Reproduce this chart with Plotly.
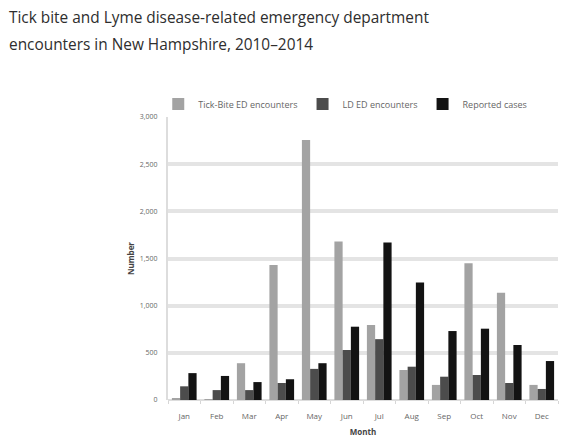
import plotly.graph_objects as go

months = ["Jan", "Feb", "Mar", "Apr", "May", "Jun", "Jul", "Aug", "Sep", "Oct", "Nov", "Dec"]
tick_bite_ed = [15, 10, 390, 1430, 2755, 1680, 795, 318, 160, 1450, 1138, 160]
ld_ed = [145, 105, 105, 180, 330, 530, 645, 353, 247, 265, 180, 117]
reported_cases = [285, 255, 190, 220, 390, 777, 1670, 1245, 731, 756, 583, 413]

y_ticks = [0, 500, 1000, 1500, 2000, 2500, 3000]
y_tick_labels = ["0", "500", "1,000", "1,500", "2,000", "2,500", "3,000"]

title_lines = ["Tick bite and Lyme disease-related emergency department",
               "encounters in New Hampshire, 2010–2014"]

W, H = 561, 440
L, R, T, B = 168, 3, 117, 40
ph = H - T - B
pw = W - L - R

fig = go.Figure()
fig.add_trace(go.Bar(name="Tick-Bite ED encounters", x=months, y=tick_bite_ed,
                     marker=dict(color="#a3a3a3", line=dict(width=0))))
fig.add_trace(go.Bar(name="LD ED encounters", x=months, y=ld_ed,
                     marker=dict(color="#4c4c4c", line=dict(width=0))))
fig.add_trace(go.Bar(name="Reported cases", x=months, y=reported_cases,
                     marker=dict(color="#131313", line=dict(width=0))))

annotations = []
for i, line in enumerate(title_lines):
    annotations.append(dict(
        text=line, xref="paper", yref="paper",
        x=-(L - 7) / pw, y=1 + (T - (18 + 27 * i)) / ph,
        xanchor="left", yanchor="middle", align="left", showarrow=False,
        font=dict(family="Open Sans", size=15.4, color="#2e2e2e")))

fig.update_layout(
    width=W, height=H,
    paper_bgcolor="white", plot_bgcolor="white",
    margin=dict(l=L, r=R, t=T, b=B, autoexpand=False),
    barmode="group", bargap=0.24, bargroupgap=0.0,
    font=dict(family="Open Sans", color="#555555"),
    showlegend=True,
    legend=dict(orientation="h", x=-0.025, y=1 + (T - 104) / ph, xanchor="left", yanchor="middle",
                font=dict(size=9, color="#666666"),
                bgcolor="rgba(0,0,0,0)"),
    annotations=annotations,
)

fig.update_xaxes(
    title=dict(text="<b>Month</b>", font=dict(size=8, color="#444444"), standoff=9),
    tickfont=dict(size=8, color="#666666"),
    showgrid=False, showline=False, zeroline=False,
    ticks="outside", tickson="boundaries", ticklen=3, tickcolor="#d6d6d6", tickwidth=1,
    ticklabelstandoff=10,
)
fig.update_yaxes(
    title=dict(text="<b>Number</b>", font=dict(size=8, color="#444444"), standoff=4),
    range=[0, 3000], tickvals=y_ticks, ticktext=y_tick_labels,
    tickfont=dict(size=7, color="#666666"),
    showgrid=True, gridcolor="#e4e4e4", gridwidth=4,
    showline=True, linecolor="#dddddd", linewidth=2,
    zeroline=True, zerolinecolor="#dddddd", zerolinewidth=2,
    ticks="", ticklabelstandoff=7,
)

fig.write_html("out.html", config={"displayModeBar": False},
               post_script="document.body.style.margin='0';")
